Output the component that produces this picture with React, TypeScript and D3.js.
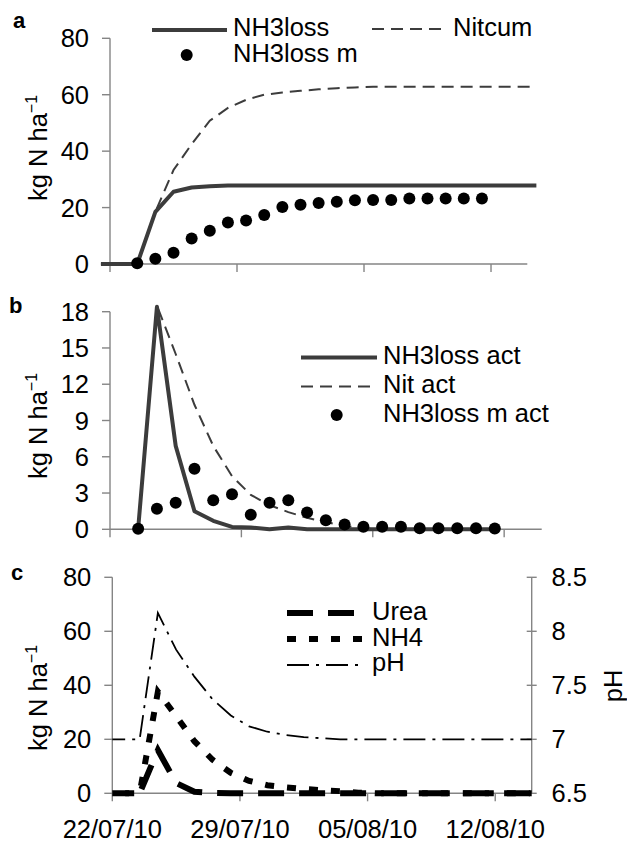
import React from "react";
import * as d3 from "d3";

// ---- dates ----
const modelDays = [
  "21/07/10", "22/07/10", "23/07/10", "24/07/10", "25/07/10", "26/07/10", "27/07/10",
  "28/07/10", "29/07/10", "30/07/10", "31/07/10", "01/08/10", "02/08/10", "03/08/10",
  "04/08/10", "05/08/10", "06/08/10", "07/08/10", "08/08/10", "09/08/10", "10/08/10",
  "11/08/10", "12/08/10", "13/08/10", "14/08/10",
];
const measDays = [
  "23/07/10", "24/07/10", "25/07/10", "26/07/10", "27/07/10", "28/07/10", "29/07/10",
  "30/07/10", "31/07/10", "01/08/10", "02/08/10", "03/08/10", "04/08/10", "05/08/10",
  "06/08/10", "07/08/10", "08/08/10", "09/08/10", "10/08/10", "11/08/10",
];
const dateTicks = ["22/07/10", "29/07/10", "05/08/10", "12/08/10"];
const axisStart = "22/07/10";
const axisEnd = "14/08/10";

// ---- panel a: cumulative (kg N/ha) ----
const nh3loss = [0, 0, 0, 18.5, 25.6, 27.1, 27.6, 27.8, 27.8, 27.8, 27.8, 27.8, 27.8,
  27.8, 27.8, 27.8, 27.8, 27.8, 27.8, 27.8, 27.8, 27.8, 27.8, 27.8, 27.8];
const nitcum = [0, 0, 0, 18.5, 33.3, 42.5, 50.8, 55.3, 58.2, 60.0, 60.8, 61.4, 61.9,
  62.3, 62.6, 62.8, 62.8, 62.8, 62.8, 62.8, 62.8, 62.8, 62.8, 62.8, 62.8];
const nh3lossM = [0.3, 1.9, 4.0, 9.0, 11.8, 14.7, 15.4, 17.4, 20.2, 21.0, 21.6, 22.1,
  22.6, 22.7, 22.7, 23.2, 23.2, 23.2, 23.2, 23.2];

// ---- panel b: daily rates (kg N/ha) ----
const nh3lossAct = [0.05, 18.4, 6.9, 1.5, 0.7, 0.2, 0.15, 0.0, 0.15, 0.0, 0.0, 0.0,
  0.0, 0.0, 0.0, 0.0, 0.0, 0.0, 0.0, 0.0];
const nitAct = [0, 18.5, 14.5, 10.3, 6.9, 4.4, 2.85, 2.0, 1.42, 0.95, 0.6, 0.27,
  0.08, 0.03, 0, 0, 0, 0, 0, 0];
const nh3lossMAct = [0.05, 1.7, 2.2, 5.0, 2.4, 2.9, 1.2, 2.2, 2.4, 1.4, 0.75, 0.4,
  0.22, 0.22, 0.22, 0.08, 0.08, 0.08, 0.08, 0.06];

// ---- panel c: soil pools (kg N/ha) and pH ----
const urea = [0, 0, 0, 16.0, 3.8, 0.6, 0.1, 0, 0, 0, 0, 0, 0, 0, 0, 0, 0, 0, 0, 0, 0, 0, 0, 0, 0];
const nh4 = [0, 0, 0, 37.6, 28.6, 19.3, 12.4, 7.6, 4.6, 3.0, 2.2, 1.6, 1.1, 0.8, 0.2,
  0, 0, 0, 0, 0, 0, 0, 0, 0, 0];
const ph = [7, 7, 7, 8.17, 7.83, 7.58, 7.37, 7.22, 7.12, 7.07, 7.04, 7.02, 7.01, 7.0,
  7.0, 7.0, 7.0, 7.0, 7.0, 7.0, 7.0, 7.0, 7.0, 7.0, 7.0];

const ticksA = [0, 20, 40, 60, 80];
const ticksB = [0, 3, 6, 9, 12, 15, 18];
const ticksC = [0, 20, 40, 60, 80];
const ticksPH = [6.5, 7, 7.5, 8, 8.5];

const parse = d3.timeParse("%d/%m/%y");
const noon = (s: string) => d3.timeHour.offset(parse(s) as Date, 12);
const day = (s: string) => parse(s) as Date;

const FONT = "'Liberation Sans', Arial, Helvetica, sans-serif";
const FS = 25.5;
const AXIS = "#858585";
const DARK = "#3c3c3c";

type Pt = [Date, number];
const pts = (dates: string[], vals: number[]): Pt[] => vals.map((v, i) => [noon(dates[i]), v]);

function YLabel({ x, y }: { x: number; y: number }) {
  return (
    <text transform={`translate(${x},${y}) rotate(-90)`} textAnchor="middle" fontSize={FS}>
      kg N ha<tspan dy={-10} fontSize={16}>−1</tspan>
    </text>
  );
}

function LeftAxis({ y, ticks, x, top, bottom }: any) {
  return (
    <g>
      <line x1={x} x2={x} y1={top} y2={bottom} stroke={AXIS} strokeWidth={1.4} />
      {ticks.map((t: number) => (
        <g key={t}>
          <line x1={x - 8} x2={x} y1={y(t)} y2={y(t)} stroke={AXIS} strokeWidth={1.4} />
          <text x={x - 21} y={y(t)} dy="0.36em" textAnchor="end" fontSize={FS}>{t}</text>
        </g>
      ))}
    </g>
  );
}

function BottomAxis({ x, y0, x0, x1, labels }: any) {
  return (
    <g>
      <line x1={x0} x2={x1} y1={y0} y2={y0} stroke={AXIS} strokeWidth={1.4} />
      {dateTicks.map((t) => (
        <g key={t}>
          <line x1={x(day(t))} x2={x(day(t))} y1={y0} y2={y0 + 8} stroke={AXIS} strokeWidth={1.4} />
          {labels && (
            <text x={x(day(t))} y={y0 + 45} textAnchor="middle" fontSize={FS}>{t}</text>
          )}
        </g>
      ))}
    </g>
  );
}

export default function App() {
  // ---------- panel a ----------
  const xa = d3.scaleTime().domain([day(axisStart), day(axisEnd)]).range([110, 527.3]);
  const ya = d3.scaleLinear().domain([0, 80]).range([264, 38.3]);
  const lineA = d3.line<Pt>().x((d) => xa(d[0])).y((d) => ya(d[1]));

  // ---------- panel b ----------
  const xb = d3.scaleTime().domain([day(axisStart), day(axisEnd)]).range([110, 541.7]);
  const yb = d3.scaleLinear().domain([0, 18]).range([529.3, 311.7]);
  const lineB = d3.line<Pt>().x((d) => xb(d[0])).y((d) => yb(d[1]));

  // ---------- panel c ----------
  const xc = d3.scaleTime().domain([day(axisStart), day(axisEnd)]).range([112.3, 531.7]);
  const yc = d3.scaleLinear().domain([0, 80]).range([793.3, 577.3]);
  const yph = d3.scaleLinear().domain([6.5, 8.5]).range([793.3, 577.3]);
  const lineC = d3.line<Pt>().x((d) => xc(d[0])).y((d) => yc(d[1]));
  const linePH = d3.line<Pt>().x((d) => xc(d[0])).y((d) => yph(d[1]));

  const UREA_DASH = "26,15";
  const NH4_DASH = "9,13";
  const PH_DASH = "22,7,3,7";
  const NIT_DASH = "12,7";

  return (
    <svg
      width={627}
      height={843}
      style={{ position: "absolute", left: 0, top: 0, background: "#fff" }}
      fontFamily={FONT}
      fill="#000"
    >
      <rect width={627} height={843} fill="#fff" />
      <defs>
        <clipPath id="clipC">
          <rect x={112.3} y={560} width={531.7 - 112.3} height={245} />
        </clipPath>
      </defs>

      {/* ===== a ===== */}
      <text x={13} y={28} fontSize={22} fontWeight="bold">a</text>
      <YLabel x={47} y={148} />
      <LeftAxis y={ya} ticks={ticksA} x={110} top={38.3} bottom={264} />
      <BottomAxis x={xa} y0={264} x0={110} x1={527.3} labels={false} />
      <path d={lineA(pts(modelDays, nh3loss)) || ""} fill="none" stroke={DARK} strokeWidth={4} strokeLinejoin="round" />
      <path d={lineA(pts(modelDays, nitcum)) || ""} fill="none" stroke={DARK} strokeWidth={2} strokeDasharray={NIT_DASH} />
      {pts(measDays, nh3lossM).map((d, i) => (
        <circle key={i} cx={xa(d[0])} cy={ya(d[1])} r={6} fill="#000" />
      ))}
      {/* legend a */}
      <line x1={152} x2={227} y1={30} y2={30} stroke={DARK} strokeWidth={4} />
      <text x={233} y={36} fontSize={FS}>NH3loss</text>
      <line x1={372} x2={448} y1={29} y2={29} stroke={DARK} strokeWidth={2} strokeDasharray={NIT_DASH} />
      <text x={453} y={36} fontSize={FS}>Nitcum</text>
      <circle cx={186.7} cy={55} r={6} fill="#000" />
      <text x={233} y={62} fontSize={FS}>NH3loss m</text>

      {/* ===== b ===== */}
      <text x={9} y={313} fontSize={22} fontWeight="bold">b</text>
      <YLabel x={47} y={426} />
      <LeftAxis y={yb} ticks={ticksB} x={110} top={311.7} bottom={529.3} />
      <BottomAxis x={xb} y0={529.3} x0={110} x1={541.7} labels={false} />
      <path d={lineB(pts(measDays, nh3lossAct)) || ""} fill="none" stroke={DARK} strokeWidth={4} strokeLinejoin="round" />
      <path d={lineB(pts(measDays, nitAct)) || ""} fill="none" stroke={DARK} strokeWidth={2} strokeDasharray={NIT_DASH} />
      {pts(measDays, nh3lossMAct).map((d, i) => (
        <circle key={i} cx={xb(d[0])} cy={yb(d[1])} r={6} fill="#000" />
      ))}
      {/* legend b */}
      <line x1={301} x2={377} y1={357.5} y2={357.5} stroke={DARK} strokeWidth={4} />
      <text x={383} y={364} fontSize={FS}>NH3loss act</text>
      <line x1={301} x2={377} y1={386.5} y2={386.5} stroke={DARK} strokeWidth={2} strokeDasharray={NIT_DASH} />
      <text x={383} y={393} fontSize={FS}>Nit act</text>
      <circle cx={336.7} cy={415} r={6} fill="#000" />
      <text x={383} y={422} fontSize={FS}>NH3loss m act</text>

      {/* ===== c ===== */}
      <text x={11} y={580} fontSize={22} fontWeight="bold">c</text>
      <YLabel x={47} y={698} />
      <LeftAxis y={yc} ticks={ticksC} x={112.3} top={577.3} bottom={793.3} />
      <BottomAxis x={xc} y0={793.3} x0={112.3} x1={531.7} labels={true} />
      {/* right pH axis */}
      <line x1={531.7} x2={531.7} y1={577.3} y2={793.3} stroke={AXIS} strokeWidth={1.4} />
      {ticksPH.map((t) => (
        <g key={t}>
          <line x1={526.7} x2={536.7} y1={yph(t)} y2={yph(t)} stroke={AXIS} strokeWidth={1.4} />
          <text x={551.5} y={yph(t)} dy="0.36em" fontSize={FS}>{t}</text>
        </g>
      ))}
      <text transform={`translate(622,686) rotate(-90)`} textAnchor="middle" fontSize={FS}>pH</text>
      <g clipPath="url(#clipC)">
        <path d={lineC(pts(modelDays, urea)) || ""} fill="none" stroke="#000" strokeWidth={6} strokeDasharray={UREA_DASH} />
        <path d={lineC(pts(modelDays, nh4)) || ""} fill="none" stroke="#000" strokeWidth={6} strokeDasharray={NH4_DASH} />
        <path d={linePH(pts(modelDays, ph)) || ""} fill="none" stroke="#000" strokeWidth={1.8} strokeDasharray={PH_DASH} />
      </g>
      {/* legend c */}
      <line x1={287} x2={360} y1={613} y2={613} stroke="#000" strokeWidth={6} strokeDasharray={UREA_DASH} />
      <text x={372} y={620} fontSize={FS}>Urea</text>
      <line x1={287} x2={366} y1={639} y2={639} stroke="#000" strokeWidth={6} strokeDasharray={NH4_DASH} />
      <text x={372} y={645.5} fontSize={FS}>NH4</text>
      <line x1={287} x2={360} y1={665} y2={665} stroke="#000" strokeWidth={1.8} strokeDasharray={PH_DASH} />
      <text x={372} y={671} fontSize={FS}>pH</text>
    </svg>
  );
}
